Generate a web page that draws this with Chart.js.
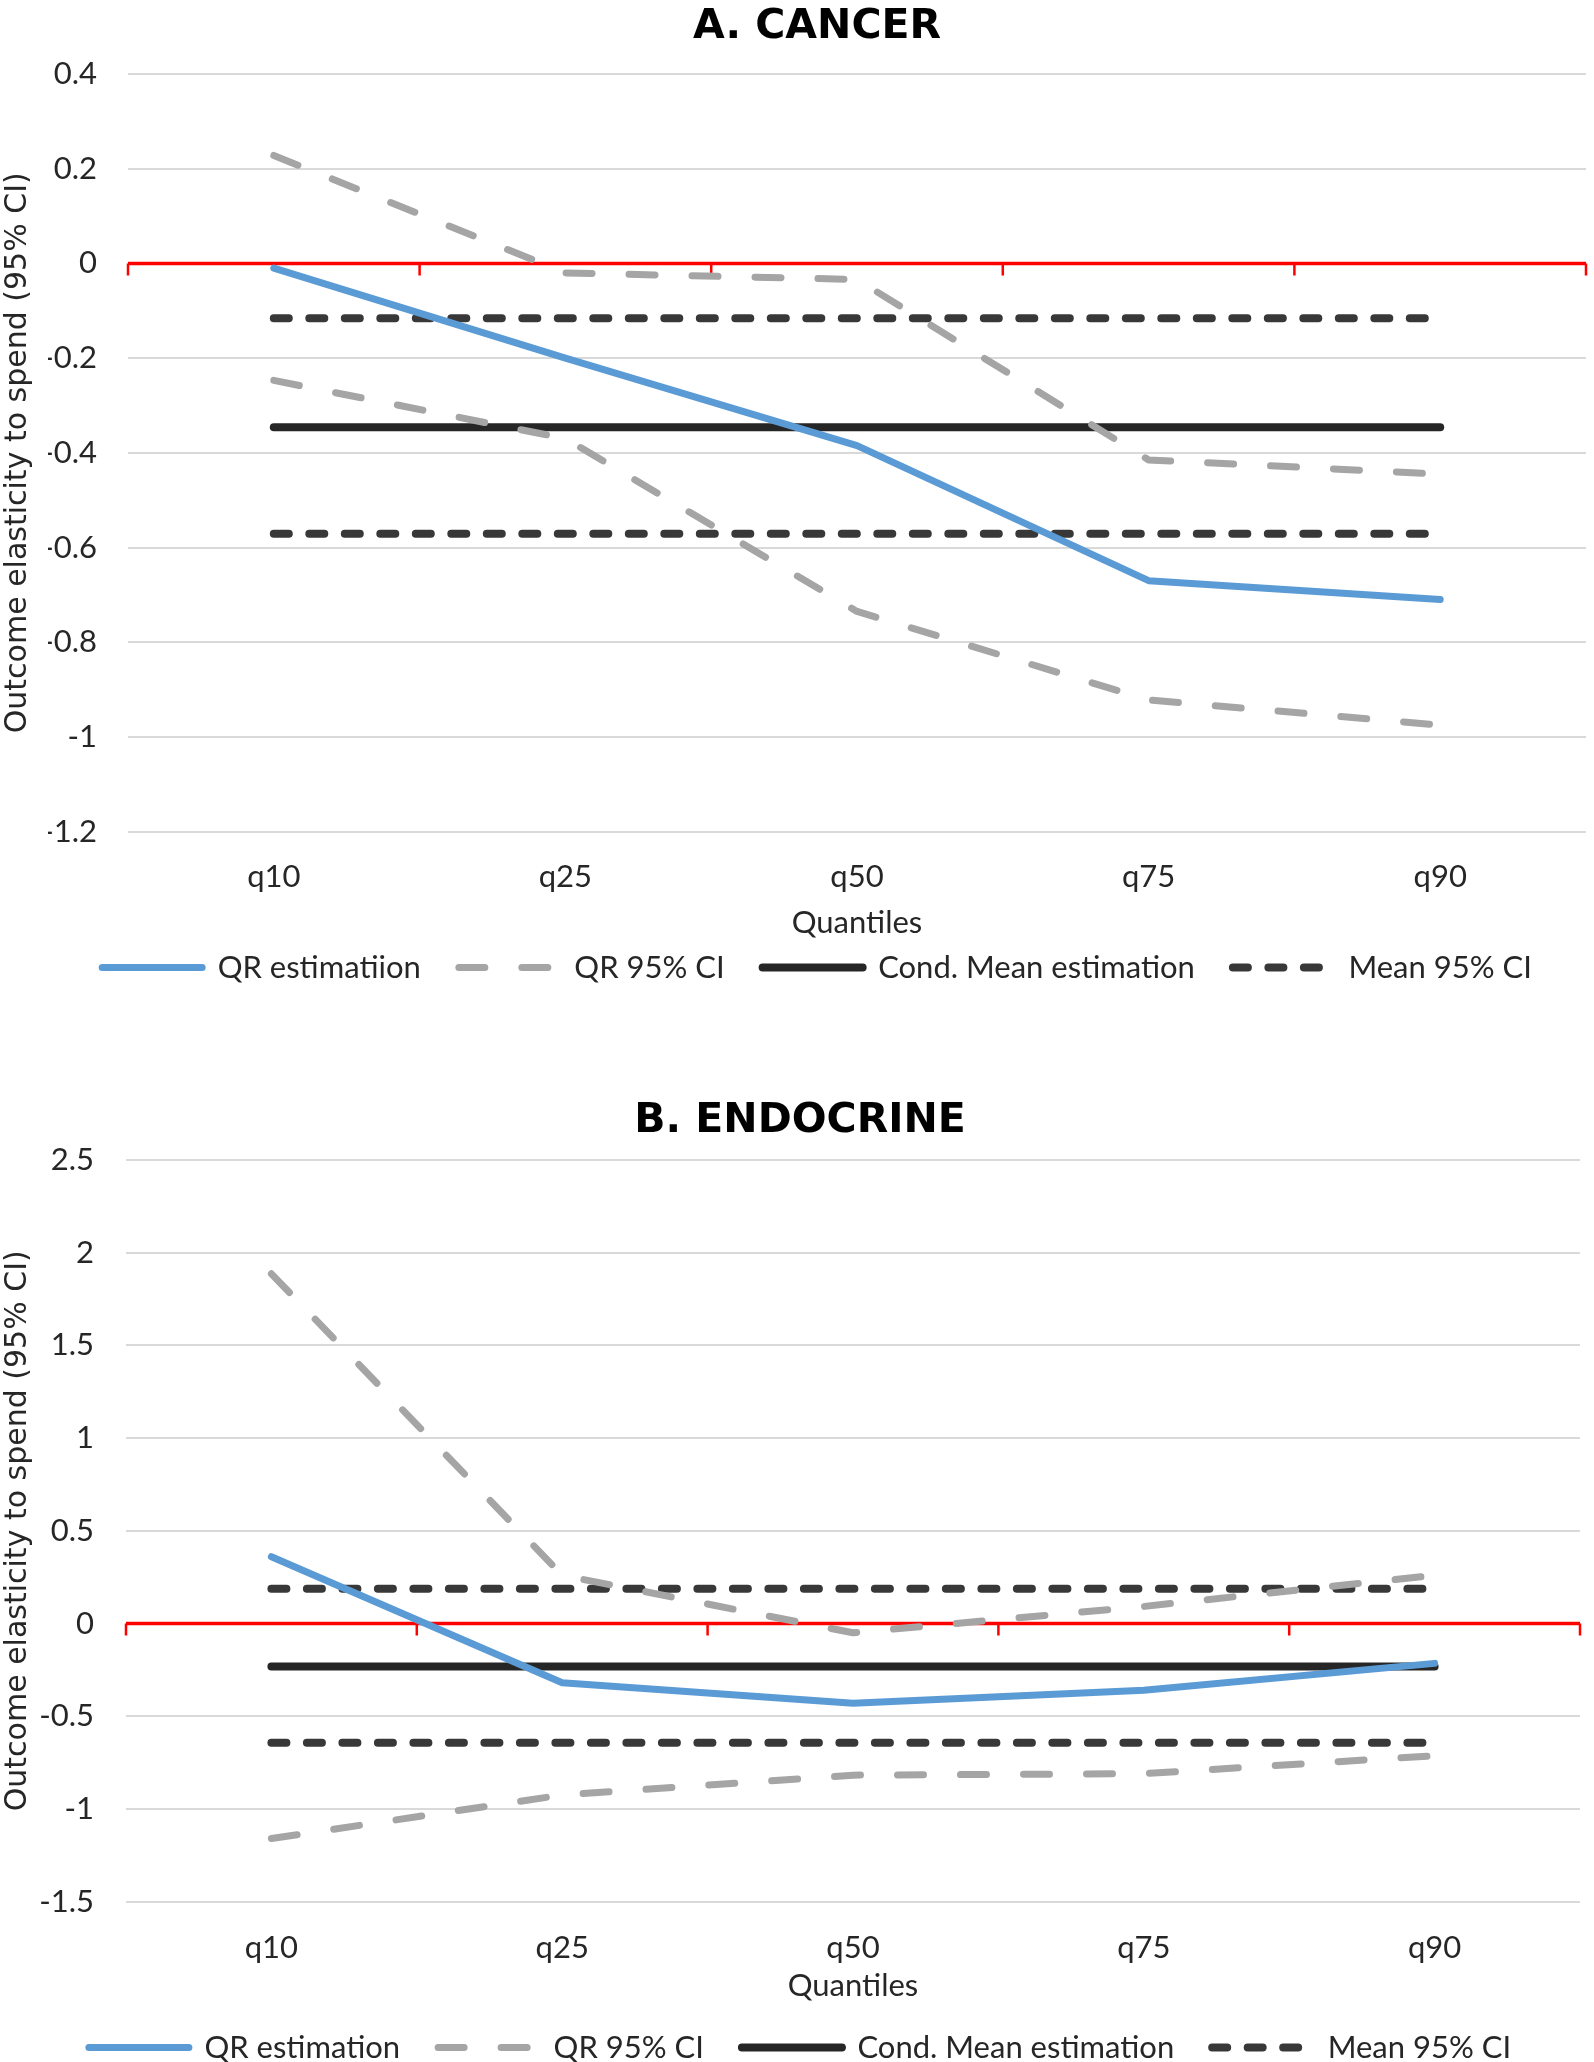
<!DOCTYPE html>
<html><head><meta charset="utf-8">
<script src="https://cdn.jsdelivr.net/npm/chart.js@4.4.1/dist/chart.umd.min.js"></script>
<style>
html,body{margin:0;padding:0;background:#fff;overflow:hidden;width:1594px;height:2062px;}
#w1{position:absolute;left:0;top:0;width:1594px;height:993px;}
#w2{position:absolute;left:0;top:1045px;width:1594px;height:1028px;}
</style></head><body>
<div id="w1"><canvas id="c1"></canvas></div>
<div id="w2"><canvas id="c2"></canvas></div>
<script>
// ---- data ----
const quantiles = ['q10', 'q25', 'q50', 'q75', 'q90'];

const cancerQR        = [-0.01, -0.20, -0.385, -0.67, -0.71];
const cancerQRUpper   = [0.228, -0.02, -0.034, -0.415, -0.445];
const cancerQRLower   = [-0.247, -0.37, -0.735, -0.922, -0.975];
const cancerMean      = [-0.346, -0.346, -0.346, -0.346, -0.346];
const cancerMeanUpper = [-0.116, -0.116, -0.116, -0.116, -0.116];
const cancerMeanLower = [-0.571, -0.571, -0.571, -0.571, -0.571];

const endoQR        = [0.36, -0.32, -0.43, -0.36, -0.215];
const endoQRUpper   = [1.886, 0.26, -0.05, 0.092, 0.26];
const endoQRLower   = [-1.16, -0.925, -0.818, -0.81, -0.713];
const endoMean      = [-0.232, -0.232, -0.232, -0.232, -0.232];
const endoMeanUpper = [0.188, 0.188, 0.188, 0.188, 0.188];
const endoMeanLower = [-0.643, -0.643, -0.643, -0.643, -0.643];

const cancerTicks = {min: -1.2, max: 0.4, step: 0.2};
const endoTicks   = {min: -1.5, max: 2.5, step: 0.5};

// ---- styles ----
const BLUE = '#5B9BD5', GRAY = '#A5A5A5', BLACK = '#262626', DARK = '#383838';
const TXT = '#262626';
Chart.defaults.font.family = 'Lato, "Open Sans", sans-serif';
Chart.defaults.color = TXT;

const zeroLine = {
  id: 'zeroLine',
  beforeDatasetsDraw(chart) {
    const {ctx, chartArea: a, scales: {y}} = chart;
    const py = y.getPixelForValue(0);
    const n = chart.data.labels.length;
    ctx.save();
    ctx.strokeStyle = '#FF0000';
    ctx.lineWidth = 3.5;
    ctx.beginPath();
    ctx.moveTo(a.left, py); ctx.lineTo(a.right, py);
    ctx.stroke();
    ctx.lineWidth = 2.5;
    ctx.beginPath();
    for (let i = 0; i <= n; i++) {
      const px = a.left + (a.right - a.left) * i / n;
      ctx.moveTo(px, py); ctx.lineTo(px, py + 12);
    }
    ctx.stroke();
    ctx.restore();
  }
};

function ds(label, data, color, width, dash, noLegend) {
  return {
    label, data,
    borderColor: color, backgroundColor: color,
    borderWidth: width, borderDash: dash,
    borderCapStyle: 'round', borderJoinStyle: 'round',
    pointRadius: 0, pointHoverRadius: 0, pointStyle: 'line',
    tension: 0, fill: false, noLegend: !!noLegend
  };
}

function build(id, p) {
  const sets = [
    ds(p.qrLabel, p.qr, BLUE, 7, []),
    ds('QR 95% CI', p.qrU, GRAY, 7, [26, 37]),
    ds('QR 95% CI (lower)', p.qrL, GRAY, 7, [26, 37], true),
    ds('Cond. Mean estimation', p.mean, BLACK, 8, []),
    ds('Mean 95% CI', p.meanU, DARK, 8, [15, 20.5]),
    ds('Mean 95% CI (lower)', p.meanL, DARK, 8, [15, 20.5], true)
  ];
  return new Chart(document.getElementById(id), {
    type: 'line',
    data: {labels: quantiles, datasets: sets},
    plugins: [zeroLine],
    options: {
      responsive: true, maintainAspectRatio: false, animation: false,
      layout: {padding: {left: p.padLeft, right: p.padRight, top: 0, bottom: 0}},
      plugins: {
        tooltip: {enabled: false},
        title: {
          display: true, text: p.title, color: '#000',
          font: {family: '"DejaVu Sans", Verdana, sans-serif', size: 41, weight: 'bold', lineHeight: 1},
          padding: p.titlePad
        },
        legend: {
          position: 'bottom',
          labels: {
            usePointStyle: true, pointStyleWidth: 100, padding: 38,
            font: {size: 31}, color: TXT,
            generateLabels: (chart) => {
              const items = Chart.defaults.plugins.legend.labels.generateLabels(chart);
              items.forEach(it => {
                const d = chart.data.datasets[it.datasetIndex];
                it.lineDash = d.borderDash;
                it.lineWidth = d.borderWidth;
                it.lineCap = 'round';
                it.strokeStyle = d.borderColor;
                it.fillStyle = d.borderColor;
              });
              return items;
            },
            filter: (item, data) => !data.datasets[item.datasetIndex].noLegend
          }
        }
      },
      scales: {
        x: {
          type: 'category', offset: true,
          grid: {display: false, drawTicks: false},
          border: {display: false},
          ticks: {padding: p.xTickPad, font: {size: 31, lineHeight: 1.2}, color: TXT},
          title: {display: true, text: 'Quantiles', font: {size: 31, lineHeight: 1.2}, color: TXT, padding: p.xTitlePad}
        },
        y: {
          min: p.ticks.min, max: p.ticks.max,
          afterFit: s => { s.width = p.yWidth; },
          grid: {color: '#D9D9D9', lineWidth: 2, drawTicks: false},
          border: {display: false},
          ticks: {
            stepSize: p.ticks.step, padding: p.yTickPad, font: {size: 31}, color: TXT,
            callback: v => String(Math.round(v * 10) / 10)
          },
          title: {
            display: true, text: 'Outcome elasticity to spend (95% CI)', color: TXT,
            font: {family: '"DejaVu Sans", Verdana, sans-serif', size: 30, lineHeight: 1.2},
            padding: {top: -p.padLeft, bottom: 0}
          }
        }
      }
    }
  });
}

build('c1', {
  title: 'A. CANCER', qrLabel: 'QR estimatiion',
  qr: cancerQR, qrU: cancerQRUpper, qrL: cancerQRLower,
  mean: cancerMean, meanU: cancerMeanUpper, meanL: cancerMeanLower,
  ticks: cancerTicks, padLeft: 48, padRight: 8, yWidth: 80, yTickPad: 31,
  titlePad: {top: 7, bottom: 26},
  xTickPad: 27, xTitlePad: {top: -18.5, bottom: -27.5}
});

build('c2', {
  title: 'B. ENDOCRINE', qrLabel: 'QR estimation',
  qr: endoQR, qrU: endoQRUpper, qrL: endoQRLower,
  mean: endoMean, meanU: endoMeanUpper, meanL: endoMeanLower,
  ticks: endoTicks, padLeft: 20, padRight: 14, yWidth: 106, yTickPad: 32,
  titlePad: {top: 56, bottom: 18},
  xTickPad: 28, xTitlePad: {top: -27.5, bottom: -10.5}
});
</script>
</body></html>
